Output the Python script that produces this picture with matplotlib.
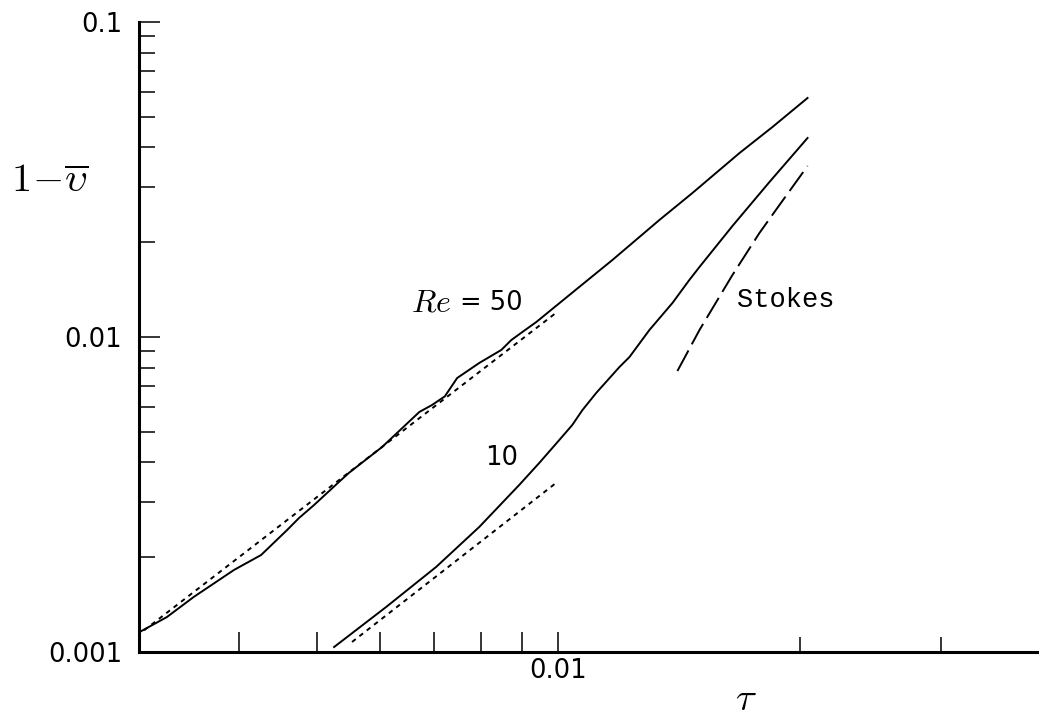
import matplotlib
matplotlib.use("Agg")
import matplotlib.pyplot as plt
from matplotlib.ticker import FixedLocator, FixedFormatter, NullFormatter

plt.rcParams["mathtext.fontset"] = "cm"
plt.rcParams["font.family"] = "DejaVu Sans"

# Re = 50 : computed mean velocity deficit
tau_re50 = [0.00299, 0.00325, 0.00351, 0.00394, 0.00426, 0.00459, 0.00475, 0.00496,
            0.00536, 0.00548, 0.00603, 0.00671, 0.00696, 0.00722, 0.00748, 0.00797,
            0.00849, 0.00874, 0.00902, 0.00939, 0.00997, 0.01062, 0.01168, 0.01337,
            0.01470, 0.01683, 0.01850, 0.02046]
dv_re50 = [0.001149, 0.001291, 0.001495, 0.001821, 0.002032, 0.002439, 0.002663, 0.002929,
           0.003516, 0.003701, 0.004475, 0.005780, 0.006084, 0.006480, 0.007409, 0.008270,
           0.009094, 0.009783, 0.01037, 0.01116, 0.01264, 0.01441, 0.01755, 0.02352,
           0.02865, 0.03838, 0.04642, 0.05738]

# Re = 10 : computed mean velocity deficit
tau_re10 = [0.005253, 0.006099, 0.007042, 0.00797, 0.008939, 0.009468, 0.01003, 0.01041,
            0.01072, 0.01115, 0.01192, 0.01227, 0.01299, 0.01388, 0.01457, 0.01500,
            0.01649, 0.01834, 0.02046]
dv_re10 = [0.001037, 0.001389, 0.001862, 0.002494, 0.003390, 0.003981, 0.004710, 0.005255,
           0.005864, 0.006641, 0.008029, 0.008640, 0.01052, 0.01282, 0.01517, 0.01668,
           0.02251, 0.03105, 0.04283]

# Short-time asymptotes
tau_asym50 = [0.00298, 0.00997]
dv_asym50 = [0.001124, 0.01201]
tau_asym10 = [0.005531, 0.00997]
dv_asym10 = [0.001076, 0.003464]

# Stokes solution
tau_stokes = [0.01408, 0.01500, 0.01649, 0.01782, 0.01888, 0.02046]
dv_stokes = [0.007799, 0.01052, 0.01573, 0.02139, 0.02627, 0.03490]

y_major = [0.001, 0.01, 0.1]
y_major_labels = ["0.001", "0.01", "0.1"]
y_minor = [k * 10.0 ** e for e in (-3, -2) for k in range(2, 10)]
x_long = [0.004, 0.005, 0.006, 0.007, 0.008, 0.009, 0.01]
x_long_labels = ["", "", "", "", "", "", "0.01"]
x_short = [0.02, 0.03]

W, H = 1039, 719
fig = plt.figure(figsize=(W / 100, H / 100), dpi=100)
ax = fig.add_axes([139 / W, 67 / H, (1041 - 139) / W, (697 - 67) / H])
ax.set_xscale("log")
ax.set_yscale("log")
ax.set_xlim(0.003, 0.04)
ax.set_ylim(0.001, 0.1)

lw = 1.4
ax.plot(tau_re50, dv_re50, color="black", lw=lw)
ax.plot(tau_re10, dv_re10, color="black", lw=lw)
ax.plot(tau_asym50, dv_asym50, color="black", lw=lw, linestyle=(0, (2.4, 2.4)))
ax.plot(tau_asym10, dv_asym10, color="black", lw=lw, linestyle=(0, (2.4, 2.4)))
ax.plot(tau_stokes, dv_stokes, color="black", lw=lw, linestyle=(0, (12, 3.6)))

for side in ("top", "right"):
    ax.spines[side].set_visible(False)
for side in ("left", "bottom"):
    ax.spines[side].set_linewidth(2.2)

# y ticks
ax.yaxis.set_major_locator(FixedLocator(y_major))
ax.yaxis.set_major_formatter(FixedFormatter(y_major_labels))
ax.yaxis.set_minor_locator(FixedLocator(y_minor))
ax.yaxis.set_minor_formatter(NullFormatter())
ax.tick_params(axis="y", which="major", direction="in", length=15, width=1.1,
               pad=12, labelsize=18.5)
ax.tick_params(axis="y", which="minor", direction="in", length=11.5, width=1.1)

# x ticks: long ticks (with the 0.01 label) and short ticks at 0.02, 0.03
ax.xaxis.set_minor_locator(FixedLocator(x_long))
ax.xaxis.set_minor_formatter(FixedFormatter(x_long_labels))
ax.xaxis.set_major_locator(FixedLocator(x_short))
ax.xaxis.set_major_formatter(NullFormatter())
ax.tick_params(axis="x", which="minor", direction="in", length=14.5, width=1.1,
               pad=4, labelsize=18.5)
ax.tick_params(axis="x", which="major", direction="in", length=11, width=1.1)

# axis labels
fig.text(50 / W, 1 - 181 / H, r"$1\!-\!\overline{\upsilon}$", fontsize=29,
         ha="center", va="center")
fig.text(746 / W, 1 - 699 / H, r"$\tau$", fontsize=28, ha="center", va="center")

# curve annotations
ax.text(0.00655, 0.0128, r"$Re$", fontsize=23, ha="left", va="center")
ax.text(0.00755, 0.0128, "= 50", fontsize=18.5, ha="left", va="center")
ax.text(0.00849, 0.00413, "10", fontsize=18.5, ha="center", va="center")
ax.text(0.01673, 0.0131, "Stokes", fontsize=19.5, ha="left", va="center",
        family="Liberation Mono")

fig.savefig("out.png", dpi=100)
